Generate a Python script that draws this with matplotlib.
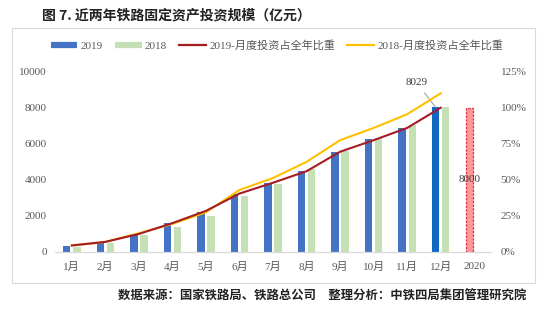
import numpy as np
import matplotlib.pyplot as plt
from matplotlib.lines import Line2D
from matplotlib.patches import Rectangle
from matplotlib.font_manager import FontProperties

# ---------- DATA ----------
months = ['1月', '2月', '3月', '4月', '5月', '6月', '7月', '8月', '9月', '10月', '11月', '12月']
labels = months + ['2020']

inv_2019 = [350, 510, 1000, 1600, 2240, 3230, 3850, 4490, 5560, 6240, 6880, 8029]
inv_2018 = [300, 480, 930, 1400, 1980, 3120, 3750, 4590, 5620, 6300, 7040, 8028]
plan_2020 = 8000

share_2019 = [0.045, 0.07, 0.125, 0.20, 0.285, 0.405, 0.48, 0.56, 0.695, 0.775, 0.86, 1.00]
share_2018 = [0.045, 0.07, 0.13, 0.195, 0.275, 0.43, 0.513, 0.625, 0.775, 0.86, 0.955, 1.10]

# ---------- STYLE ----------
SERIF = ['Liberation Serif', 'Noto Sans CJK SC']
C_BLUE = '#4472C4'
C_BLUE_DEC = '#1068C0'
C_GREEN = '#C5E0B4'
C_RED = '#A51C24'
C_YELLOW = '#FFC000'
C_TXT = '#595959'

fig = plt.figure(figsize=(5.54, 3.21), dpi=100)

# frame around the chart area
fig.patches.append(Rectangle((0.022, 0.118), 0.944, 0.795, transform=fig.transFigure,
                             fill=False, edgecolor='#D9D9D9', linewidth=0.8))

ax = fig.add_axes([0.0993, 0.215, 0.787, 0.5617])
ax2 = ax.twinx()

x = np.arange(len(months))
w = 0.22
off = 0.15

blue_colors = [C_BLUE] * 11 + [C_BLUE_DEC]
ax.bar(x - off, inv_2019, width=w, color=blue_colors, zorder=2)
ax.bar(x + off, inv_2018, width=w, color=C_GREEN, zorder=2)
ax.bar(12 - off, plan_2020, width=w, color='#FF9999', edgecolor='#E0303A',
       linestyle=(0, (2, 1)), linewidth=0.9, zorder=2)

ax.text(12 - off, plan_2020 / 2, str(plan_2020), ha='center', va='center',
        fontsize=8, family=SERIF, color='#404040', zorder=5)
ax.annotate(str(inv_2019[-1]), xy=(11 - off, inv_2019[-1]), xytext=(-14, 18),
            textcoords='offset points', ha='center', va='center',
            fontsize=8, family=SERIF, color='#404040',
            arrowprops=dict(arrowstyle='-', color='#A6A6A6', lw=0.8,
                            shrinkA=3, shrinkB=0))

ax2.plot(x, share_2018, color=C_YELLOW, linewidth=1.5, zorder=3)
ax2.plot(x, share_2019, color=C_RED, linewidth=1.5, zorder=4)

ax.set_xlim(-0.5, 12.5)
ax.set_ylim(0, 10000)
ax2.set_ylim(0, 1.25)

ax.set_xticks(np.arange(len(labels)))
ax.set_xticklabels(labels, family=SERIF, fontsize=8, color=C_TXT)
ax.set_yticks(np.arange(0, 10001, 2000))
ax.set_yticklabels([str(v) for v in range(0, 10001, 2000)], family=SERIF,
                   fontsize=8, color=C_TXT)
ax2.set_yticks(np.arange(0, 1.26, 0.25))
ax2.set_yticklabels(['%d%%' % v for v in range(0, 126, 25)], family=SERIF,
                    fontsize=8, color=C_TXT)

ax.tick_params(axis='x', length=0, pad=7)
ax.tick_params(axis='y', length=0, pad=6)
ax2.tick_params(axis='y', length=0, pad=7)

for a in (ax, ax2):
    for s in ('top', 'left', 'right'):
        a.spines[s].set_visible(False)
    a.spines['bottom'].set_color('#D9D9D9')
ax.patch.set_visible(False)
ax2.patch.set_visible(False)

# ---------- LEGEND ----------
handles = [
    Line2D([], [], color=C_BLUE, linewidth=4.5, solid_capstyle='butt'),
    Line2D([], [], color=C_GREEN, linewidth=4.5, solid_capstyle='butt'),
    Line2D([], [], color=C_RED, linewidth=1.6),
    Line2D([], [], color=C_YELLOW, linewidth=1.6),
]
names = ['2019', '2018', '2019-月度投资占全年比重', '2018-月度投资占全年比重']
leg = fig.legend(handles, names, loc='center', bbox_to_anchor=(0.5, 0.858), ncol=4,
                 frameon=False, prop=FontProperties(family=SERIF, size=8),
                 handlelength=2.4, handletextpad=0.3, columnspacing=1.1)
for t in leg.get_texts():
    t.set_color(C_TXT)

# ---------- TITLE / SOURCE ----------
fig.text(0.075, 0.951, '图 7. 近两年铁路固定资产投资规模（亿元）', ha='left', va='center',
         fontsize=10, fontweight='bold', family=['Noto Sans CJK SC'], color='#222222')
fig.text(0.95, 0.078, '数据来源：国家铁路局、铁路总公司　整理分析：中铁四局集团管理研究院',
         ha='right', va='center', fontsize=8.9, fontweight='bold',
         family=['Noto Sans CJK SC'], color='#222222')

fig.savefig('out.png', dpi=100)
